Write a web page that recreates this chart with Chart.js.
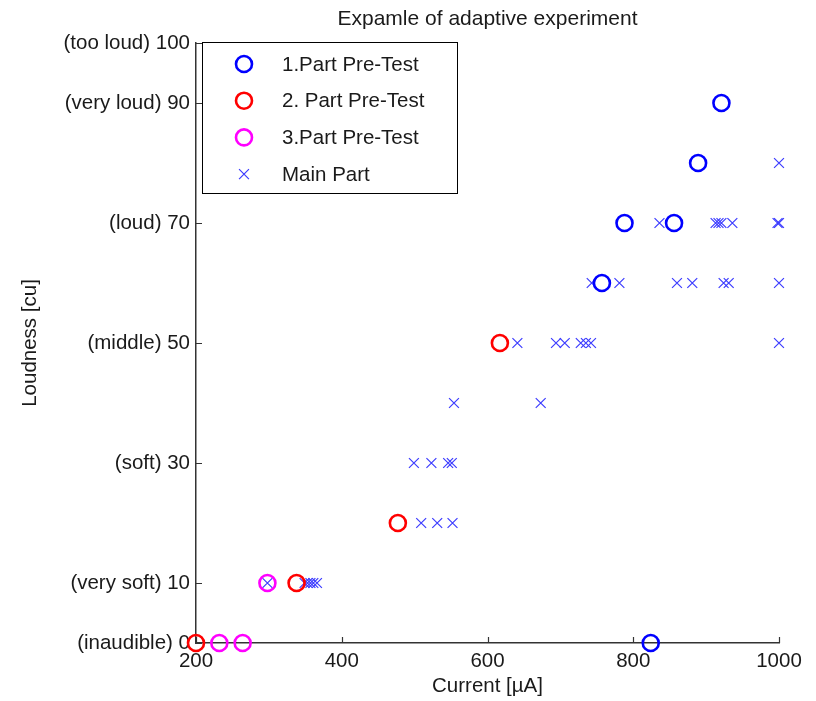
<!DOCTYPE html>
<html>
<head>
<meta charset="utf-8">
<script src="https://cdn.jsdelivr.net/npm/chart.js@4"></script>
<style>
  body { margin: 0; background: #fff; }
  canvas { display: block; }
</style>
</head>
<body>
<canvas id="grafico" width="816" height="701"></canvas>
<script>
// Pre-test 1 (blue circles)
const pre1Current = [921, 889, 788, 856, 757, 824];
const pre1Loudness = [90, 80, 70, 70, 60, 0];

// Pre-test 2 (red circles)
const pre2Current = [200, 338, 477, 617];
const pre2Loudness = [0, 10, 20, 50];

// Pre-test 3 (magenta circles)
const pre3Current = [232, 264, 298];
const pre3Loudness = [0, 0, 10];

// Main part (blue crosses)
const mainCurrent = [
    298, 349, 353, 357, 361, 366,
    509, 531, 552,
    499, 523, 546, 551,
    554, 673,
    641, 694, 706, 728, 735, 742, 1000,
    743, 781, 860, 881, 924, 931, 1000,
    836, 913, 917, 921, 936, 998, 1000,
    1000
];
const mainLoudness = [
    10, 10, 10, 10, 10, 10,
    20, 20, 20,
    30, 30, 30, 30,
    40, 40,
    50, 50, 50, 50, 50, 50, 50,
    60, 60, 60, 60, 60, 60, 60,
    70, 70, 70, 70, 70, 70, 70,
    80
];

const seriesLabels = ['1.Part Pre-Test', '2. Part Pre-Test', '3.Part Pre-Test', 'Main Part'];
const xTicks = [200, 400, 600, 800, 1000];
const yTicks = [0, 10, 30, 50, 70, 90, 100];
const yTickNames = {
    0: '(inaudible) 0',
    10: '(very soft) 10',
    30: '(soft) 30',
    50: '(middle) 50',
    70: '(loud) 70',
    90: '(very loud) 90',
    100: '(too loud) 100'
};

const fonte = 'Liberation Sans, Arial, Helvetica, sans-serif';
const tamanho = 20.5;
const corTexto = '#1a1a1a';

function pares(xs, ys) {
    return xs.map((x, i) => ({ x: x, y: ys[i] }));
}

function circulos(label, xs, ys, cor) {
    return {
        label: label,
        data: pares(xs, ys),
        pointStyle: 'circle',
        pointRadius: 8,
        pointBorderWidth: 2.6,
        borderColor: cor,
        backgroundColor: 'rgba(0,0,0,0)',
        pointBackgroundColor: 'rgba(0,0,0,0)',
        pointBorderColor: cor,
        showLine: false,
        clip: false,
        order: 0
    };
}

const datasets = [
    circulos(seriesLabels[0], pre1Current, pre1Loudness, '#0000ff'),
    circulos(seriesLabels[1], pre2Current, pre2Loudness, '#ff0000'),
    circulos(seriesLabels[2], pre3Current, pre3Loudness, '#ff00ff'),
    {
        label: seriesLabels[3],
        data: pares(mainCurrent, mainLoudness),
        pointStyle: 'crossRot',
        pointRadius: 7,
        pointBorderWidth: 1.2,
        borderColor: '#3c3cff',
        pointBorderColor: '#3c3cff',
        showLine: false,
        clip: false,
        order: 1
    }
];

// tick marks pointing into the axes, title over the axes and the boxed legend
const extras = {
    id: 'extras',
    afterDraw(chart) {
        const ctx = chart.ctx;
        const area = chart.chartArea;
        const xs = chart.scales.x;
        const ys = chart.scales.y;
        ctx.save();
        ctx.strokeStyle = '#333';
        ctx.lineWidth = 1.2;
        ctx.beginPath();
        xs.ticks.forEach(t => {
            const px = Math.round(xs.getPixelForValue(t.value)) + 0.5;
            ctx.moveTo(px, area.bottom);
            ctx.lineTo(px, area.bottom - 6);
        });
        ys.ticks.forEach(t => {
            const py = Math.round(ys.getPixelForValue(t.value)) + 0.5;
            ctx.moveTo(area.left, py);
            ctx.lineTo(area.left + 6, py);
        });
        ctx.stroke();

        ctx.fillStyle = corTexto;
        ctx.font = '21px ' + fonte;
        ctx.textAlign = 'center';
        ctx.textBaseline = 'middle';
        ctx.fillText('Expamle of adaptive experiment', (area.left + area.right) / 2, 19);

        // legend
        const lx = area.left + 6;
        const ly = area.top - 1;
        ctx.fillStyle = '#fff';
        ctx.fillRect(lx, ly, 255, 151);
        ctx.strokeStyle = '#000';
        ctx.lineWidth = 1;
        ctx.strokeRect(lx + 0.5, ly + 0.5, 255, 151);
        chart.data.datasets.forEach((ds, i) => {
            const cy = ly + 22 + i * 36.7;
            const cx = lx + 42;
            ctx.strokeStyle = ds.pointBorderColor;
            ctx.lineWidth = ds.pointBorderWidth;
            ctx.beginPath();
            if (ds.pointStyle === 'circle') {
                ctx.arc(cx, cy, ds.pointRadius, 0, Math.PI * 2);
            } else {
                const d = ds.pointRadius * Math.SQRT1_2;
                ctx.moveTo(cx - d, cy - d);
                ctx.lineTo(cx + d, cy + d);
                ctx.moveTo(cx - d, cy + d);
                ctx.lineTo(cx + d, cy - d);
            }
            ctx.stroke();
            ctx.fillStyle = corTexto;
            ctx.font = tamanho + 'px ' + fonte;
            ctx.textAlign = 'left';
            ctx.fillText(ds.label, lx + 80, cy + 1);
        });
        ctx.restore();
    }
};

const config = {
    type: 'scatter',
    data: { datasets: datasets },
    options: {
        responsive: false,
        animation: false,
        devicePixelRatio: 1,
        layout: { padding: { top: 43, right: 37, bottom: 0, left: 0 } },
        plugins: {
            legend: { display: false },
            tooltip: { enabled: false },
            title: { display: false }
        },
        scales: {
            x: {
                type: 'linear',
                min: 200,
                max: 1000,
                afterBuildTicks: s => { s.ticks = xTicks.map(v => ({ value: v })); },
                afterFit: s => { s.height = 58; },
                grid: { display: false, drawTicks: false },
                border: { display: true, color: '#333', width: 1.5 },
                ticks: {
                    color: corTexto,
                    font: { family: fonte, size: tamanho },
                    padding: 6,
                    maxRotation: 0,
                    callback: v => String(v)
                },
                title: {
                    display: true,
                    text: 'Current [µA]',
                    color: corTexto,
                    font: { family: fonte, size: tamanho },
                    padding: { top: 0, bottom: 2 }
                }
            },
            y: {
                type: 'linear',
                min: 0,
                max: 100,
                afterBuildTicks: s => { s.ticks = yTicks.map(v => ({ value: v })); },
                afterFit: s => { s.width = 196; },
                grid: { display: false, drawTicks: false },
                border: { display: true, color: '#333', width: 1.5 },
                ticks: {
                    color: corTexto,
                    font: { family: fonte, size: tamanho },
                    padding: 6,
                    callback: v => yTickNames[v]
                },
                title: {
                    display: true,
                    text: 'Loudness [cu]',
                    color: corTexto,
                    font: { family: fonte, size: tamanho },
                    padding: { top: 18, bottom: 0 }
                }
            }
        }
    },
    plugins: [extras]
};

new Chart(document.getElementById('grafico'), config);
</script>
</body>
</html>
